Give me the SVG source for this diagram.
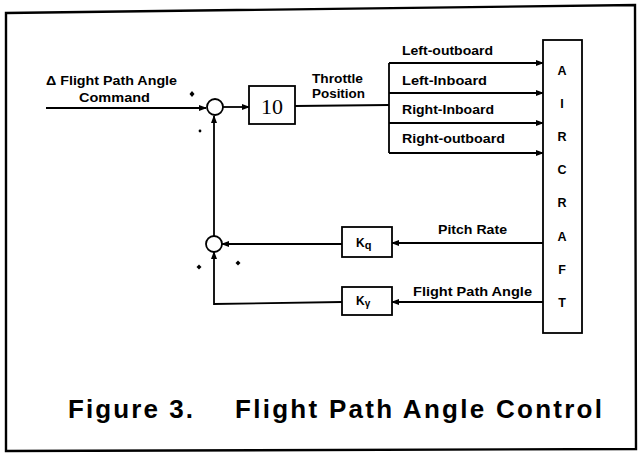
<svg xmlns="http://www.w3.org/2000/svg" width="639" height="457" viewBox="0 0 639 457">
<defs>
<marker id="arr" markerUnits="userSpaceOnUse" markerWidth="8" markerHeight="6" refX="7" refY="3" orient="auto">
<path d="M0,0 L8,3 L0,6 z" fill="#000"/>
</marker>
<style>
.ln{fill:none;stroke:#000;stroke-width:1.8}
.bx{fill:#fff;stroke:#000;stroke-width:1.8}
.lb{font-family:"Liberation Sans",Arial,sans-serif;font-weight:bold;font-size:12.5px;fill:#000}
.ac{font-family:"Liberation Sans",Arial,sans-serif;font-weight:bold;font-size:12.5px;fill:#000;text-anchor:middle}
.cap{font-family:"Liberation Sans",Arial,sans-serif;font-weight:bold;font-size:26px;fill:#000}
</style>
</defs>
<rect width="639" height="457" fill="#fff"/>
<polygon points="6,13 635,5 636,449 6,451" fill="none" stroke="#000" stroke-width="2.4"/>

<g id="connectors">
<line class="ln" x1="46" y1="108" x2="206" y2="108" marker-end="url(#arr)"/>
<line class="ln" x1="223" y1="107" x2="249" y2="107" marker-end="url(#arr)"/>
<polyline class="ln" points="295,106 389,105"/>
<line class="ln" x1="389" y1="63" x2="389" y2="153"/>
<line class="ln" x1="389" y1="63" x2="543" y2="63" marker-end="url(#arr)"/>
<line class="ln" x1="389" y1="93" x2="543" y2="93" marker-end="url(#arr)"/>
<line class="ln" x1="389" y1="123" x2="543" y2="123" marker-end="url(#arr)"/>
<line class="ln" x1="389" y1="153" x2="543" y2="153" marker-end="url(#arr)"/>
<line class="ln" x1="543" y1="243" x2="392" y2="243" marker-end="url(#arr)"/>
<line class="ln" x1="543" y1="302" x2="392" y2="302" marker-end="url(#arr)"/>
<line class="ln" x1="342" y1="244" x2="222" y2="244" marker-end="url(#arr)"/>
<polyline class="ln" points="342,302 214,304 214,252" marker-end="url(#arr)"/>
<line class="ln" x1="214" y1="236" x2="214" y2="116" marker-end="url(#arr)"/>
</g>

<g id="sum1">
<circle cx="215" cy="107" r="8" class="bx"/>
<polygon points="192,91 194.5,94 192,97 189.5,94" fill="#000"/>
<circle cx="200" cy="131" r="1.4" fill="#000"/>
</g>

<g id="gain10">
<rect x="249" y="86" width="46" height="38" class="bx"/>
<text x="272" y="114" font-family="Liberation Serif,serif" font-size="22" text-anchor="middle">10</text>
</g>

<g id="sum2">
<circle cx="214" cy="244" r="8" class="bx"/>
<polygon points="199,264.5 201.5,267 199,269.5 196.5,267" fill="#000"/>
<polygon points="238,260.5 240.5,263 238,265.5 235.5,263" fill="#000"/>
</g>

<g id="kq">
<rect x="342" y="227" width="50" height="30" class="bx"/>
<text x="356" y="247" font-family="Liberation Sans,Arial,sans-serif" font-weight="bold" font-size="12">K<tspan font-size="11" dy="2">q</tspan></text>
</g>

<g id="kgamma">
<rect x="342" y="287" width="50" height="28" class="bx"/>
<text x="356" y="305" font-family="Liberation Sans,Arial,sans-serif" font-weight="bold" font-size="12">K<tspan font-size="10" dy="2">γ</tspan></text>
</g>

<g id="aircraft">
<rect x="543" y="40" width="39" height="293" class="bx"/>
<text class="ac" x="562" y="75">A</text>
<text class="ac" x="562" y="108">I</text>
<text class="ac" x="562" y="141">R</text>
<text class="ac" x="562" y="174">C</text>
<text class="ac" x="562" y="207">R</text>
<text class="ac" x="562" y="241">A</text>
<text class="ac" x="562" y="274">F</text>
<text class="ac" x="562" y="307">T</text>
</g>

<g id="labels">
<text class="lb" x="46" y="85" textLength="131" lengthAdjust="spacingAndGlyphs">Δ Flight Path Angle</text>
<text class="lb" x="79" y="102" textLength="71" lengthAdjust="spacingAndGlyphs">Command</text>
<text class="lb" x="312" y="83" textLength="51" lengthAdjust="spacingAndGlyphs">Throttle</text>
<text class="lb" x="312" y="98" textLength="53" lengthAdjust="spacingAndGlyphs">Position</text>
<text class="lb" x="402" y="55" textLength="91" lengthAdjust="spacingAndGlyphs">Left-outboard</text>
<text class="lb" x="402" y="85" textLength="85" lengthAdjust="spacingAndGlyphs">Left-Inboard</text>
<text class="lb" x="402" y="114" textLength="92" lengthAdjust="spacingAndGlyphs">Right-Inboard</text>
<text class="lb" x="402" y="143" textLength="103" lengthAdjust="spacingAndGlyphs">Right-outboard</text>
<text class="lb" x="438" y="234" textLength="69" lengthAdjust="spacingAndGlyphs">Pitch Rate</text>
<text class="lb" x="413" y="296" textLength="119" lengthAdjust="spacingAndGlyphs">Flight Path Angle</text>
<text class="cap" x="68" y="418" textLength="125" lengthAdjust="spacing">Figure 3.</text>
<text class="cap" x="235" y="418" textLength="367" lengthAdjust="spacing">Flight Path Angle Control</text>
</g>
</svg>
